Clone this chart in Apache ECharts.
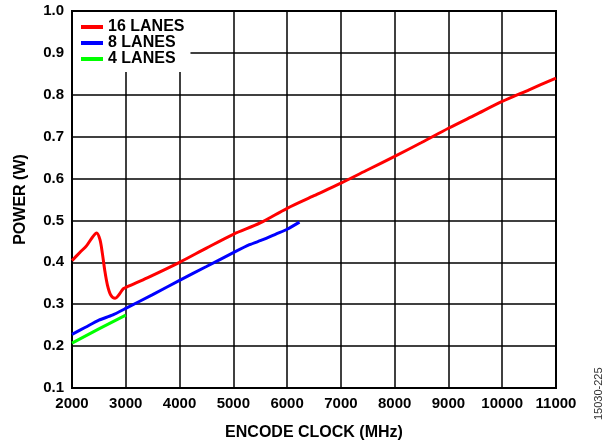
<!DOCTYPE html>
<html>
<head>
<meta charset="utf-8">
<script src="https://cdn.jsdelivr.net/npm/echarts@6/dist/echarts.min.js"></script>
<style>
html,body{margin:0;padding:0;background:#fff;}
#chart{width:615px;height:442px;}
</style>
</head>
<body>
<div id="chart"></div>
<script>
var xTicks = [2000, 3000, 4000, 5000, 6000, 7000, 8000, 9000, 10000, 11000];
var yTicks = [0.1, 0.2, 0.3, 0.4, 0.5, 0.6, 0.7, 0.8, 0.9, 1.0];

var lanes16X = [2000, 2150, 2273, 2380, 2459, 2520, 2564, 2610, 2660, 2720, 2800, 2870, 2955, 3050, 3400, 4000, 4500, 5000, 5500, 6000, 6500, 7000, 7500, 8000, 8500, 9000, 9500, 10000, 10500, 11000];
var lanes16Y = [0.404, 0.424, 0.440, 0.460, 0.470, 0.454, 0.422, 0.380, 0.345, 0.322, 0.314, 0.322, 0.337, 0.343, 0.363, 0.400, 0.434, 0.467, 0.494, 0.529, 0.559, 0.589, 0.621, 0.653, 0.686, 0.720, 0.752, 0.784, 0.812, 0.840];

var lanes8X = [2000, 2250, 2500, 2750, 3000, 3500, 4000, 4500, 5000, 5300, 5550, 5800, 6000, 6230];
var lanes8Y = [0.228, 0.245, 0.262, 0.274, 0.290, 0.323, 0.357, 0.390, 0.423, 0.442, 0.454, 0.468, 0.479, 0.496];

var lanes4X = [2000, 2500, 3000];
var lanes4Y = [0.207, 0.241, 0.274];

var seriesNames = ['16 LANES', '8 LANES', '4 LANES'];
var seriesColors = ['#ff0000', '#0000ff', '#00ff00'];

function pairs(xs, ys) { return xs.map(function (x, i) { return [x, ys[i]]; }); }

var FONT = 'Arial, "Liberation Sans", sans-serif';
var chart = echarts.init(document.getElementById('chart'), null, { renderer: 'canvas' });
chart.setOption({
  animation: false,
  backgroundColor: '#ffffff',
  grid: { left: 72, right: 59, top: 11, bottom: 54, containLabel: false, outerBoundsMode: 'none',
    show: true, borderColor: '#000', borderWidth: 2, backgroundColor: 'transparent' },
  legend: {
    left: 73, top: 12, orient: 'vertical',
    backgroundColor: '#ffffff',
    padding: [7, 6, 5, 8],
    itemGap: 0, itemWidth: 22, itemHeight: 4,
    icon: 'rect',
    textStyle: { fontFamily: FONT, fontWeight: 'bold', fontSize: 16, color: '#000', lineHeight: 16 },
    data: seriesNames
  },
  xAxis: {
    type: 'value', min: xTicks[0], max: xTicks[xTicks.length - 1], interval: 1000,
    name: 'ENCODE CLOCK (MHz)', nameLocation: 'middle', nameGap: 37,
    nameTextStyle: { fontFamily: FONT, fontWeight: 'bold', fontSize: 16, color: '#000' },
    axisLine: { show: true, lineStyle: { color: '#000', width: 2 } },
    axisTick: { show: false },
    axisLabel: { fontFamily: FONT, fontWeight: 'bold', fontSize: 15, color: '#000', margin: 8,
      formatter: function (v) { return String(v); } },
    splitLine: { show: true, lineStyle: { color: '#000', width: 1.5 } }
  },
  yAxis: {
    type: 'value', min: 0.1, max: 1.0, interval: 0.1,
    name: 'POWER (W)', nameLocation: 'middle', nameGap: 43, nameRotate: 90,
    nameTextStyle: { fontFamily: FONT, fontWeight: 'bold', fontSize: 16, color: '#000' },
    axisLine: { show: true, lineStyle: { color: '#000', width: 2 } },
    axisTick: { show: false },
    axisLabel: { fontFamily: FONT, fontWeight: 'bold', fontSize: 15, color: '#000', margin: 8,
      formatter: function (v) { return v.toFixed(1); } },
    splitLine: { show: true, lineStyle: { color: '#000', width: 1.5 } }
  },
  graphic: [{
    type: 'text', x: 593, y: 420, rotation: Math.PI / 2,
    style: { text: '15030-225', fontFamily: FONT, fontSize: 11, fill: '#333', textAlign: 'left', textVerticalAlign: 'top' }
  }],
  series: [
    { name: seriesNames[0], type: 'line', data: pairs(lanes16X, lanes16Y), showSymbol: false, smooth: 0.3,
      lineStyle: { color: seriesColors[0], width: 3 }, itemStyle: { color: seriesColors[0] }, z: 5 },
    { name: seriesNames[1], type: 'line', data: pairs(lanes8X, lanes8Y), showSymbol: false, smooth: 0.2,
      lineStyle: { color: seriesColors[1], width: 3 }, itemStyle: { color: seriesColors[1] }, z: 4 },
    { name: seriesNames[2], type: 'line', data: pairs(lanes4X, lanes4Y), showSymbol: false,
      lineStyle: { color: seriesColors[2], width: 3 }, itemStyle: { color: seriesColors[2] }, z: 3 }
  ]
});
</script>
</body>
</html>
